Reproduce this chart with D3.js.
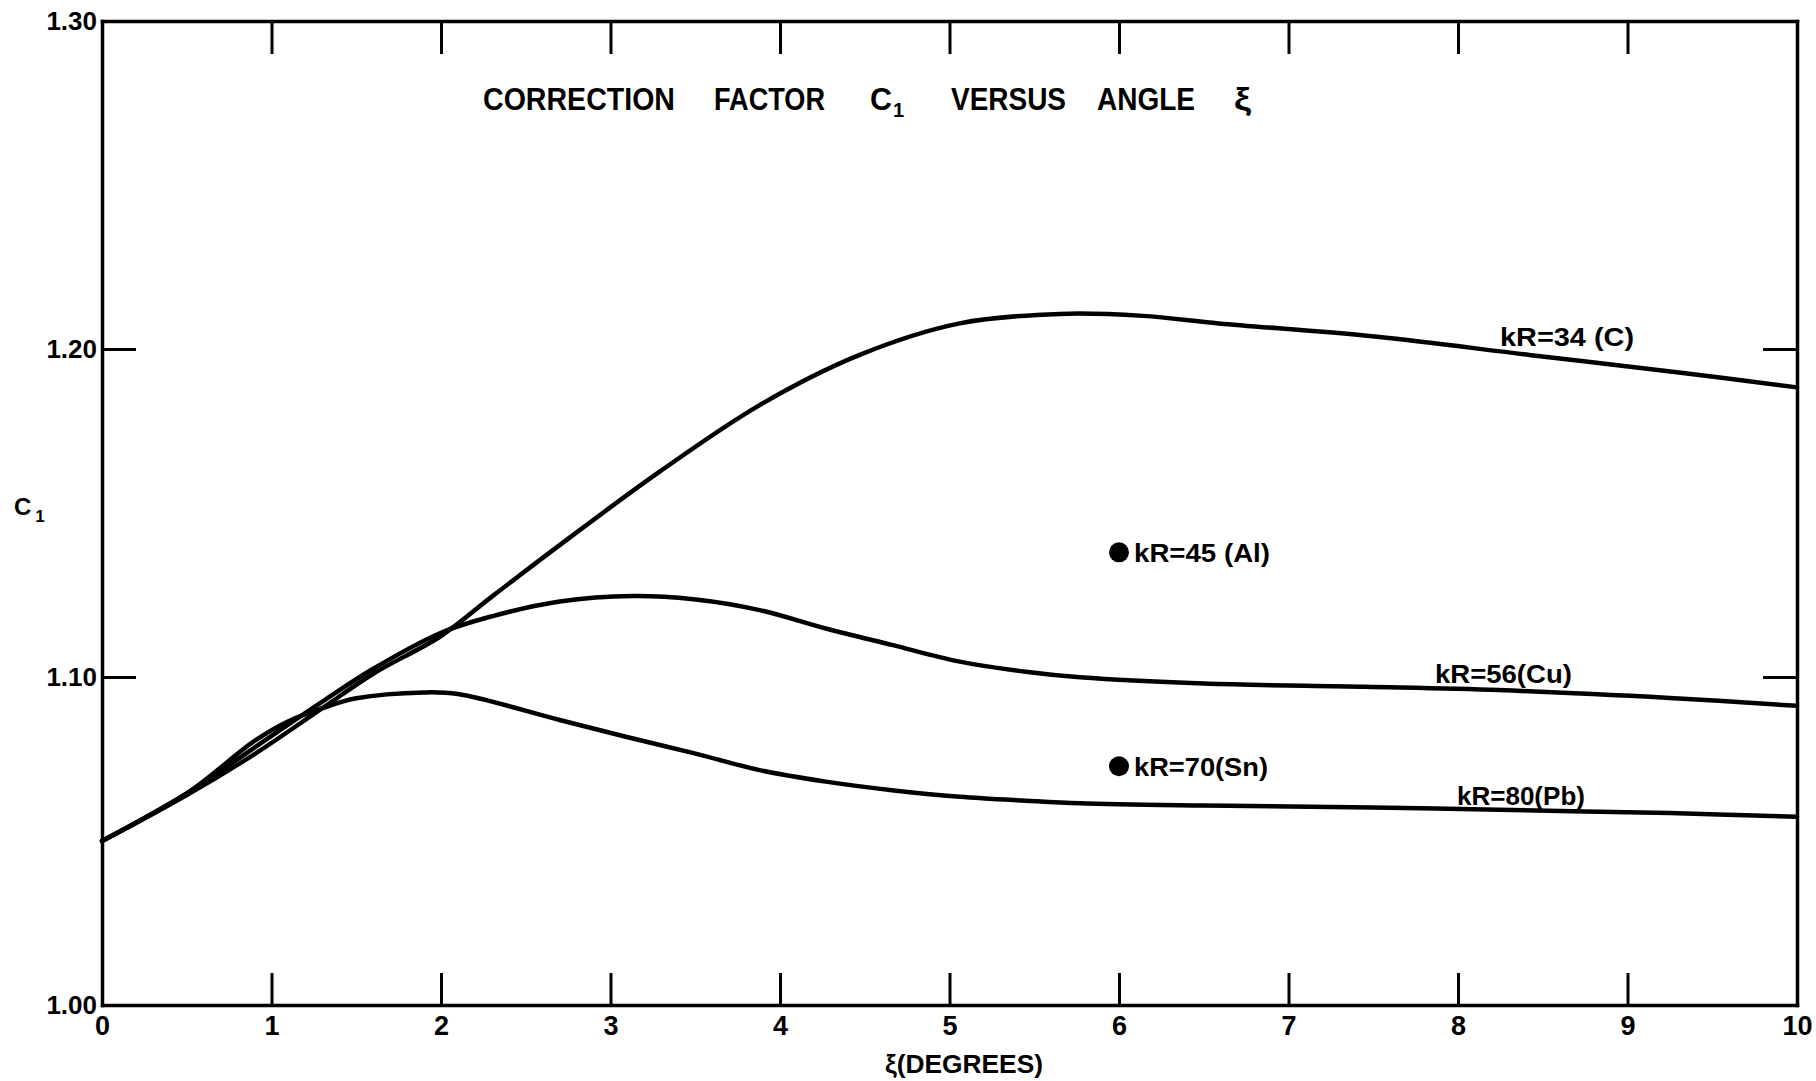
<!DOCTYPE html>
<html>
<head>
<meta charset="utf-8">
<script src="https://cdn.jsdelivr.net/npm/d3@7"></script>
<style>
  html, body { margin: 0; padding: 0; background: #fff; }
  svg { display: block; }
  text { font-family: "Liberation Sans", Arial, sans-serif; font-weight: bold; fill: #000; }
</style>
</head>
<body>
<svg id="chart" width="1816" height="1081"></svg>
<script>
// ---- data -------------------------------------------------------------
const xTickValues = [0, 1, 2, 3, 4, 5, 6, 7, 8, 9, 10];
const yTickValues = [1.00, 1.10, 1.20, 1.30];

// kR = 34 (C)
const xiC = [0, 0.5, 0.9, 1.3, 1.6, 2.0, 2.3, 2.7, 3.29, 3.88, 4.47, 5.06, 5.65, 6.14, 6.59, 7.51, 8.42, 9.34, 10];
const c1C = [1.050, 1.064, 1.0765, 1.0905, 1.101, 1.1125, 1.1245, 1.1402, 1.1626, 1.1829, 1.1982, 1.2078, 1.2107, 1.2101, 1.2078, 1.2038, 1.1982, 1.1926, 1.1883];

// kR = 56 (Cu)
const xiCu = [0, 0.5, 0.9, 1.3, 1.6, 2.0, 2.3, 2.7, 3.13, 3.49, 3.88, 4.27, 4.66, 5.06, 5.45, 5.77, 6.5, 7.45, 8.24, 9.25, 10];
const c1Cu = [1.050, 1.0645, 1.0785, 1.0925, 1.1025, 1.1135, 1.1185, 1.123, 1.1247, 1.1237, 1.1204, 1.1148, 1.1098, 1.1047, 1.1016, 1.0999, 1.098, 1.097, 1.096, 1.0936, 1.0912];

// kR = 80 (Pb)
const xiPb = [0, 0.5, 0.9, 1.1, 1.3, 1.5, 1.9, 2.1, 2.7, 3.09, 3.49, 3.88, 4.27, 4.66, 5.06, 5.45, 5.77, 6.5, 7.5, 8.24, 9.25, 10];
const c1Pb = [1.050, 1.0645, 1.0805, 1.0865, 1.0905, 1.0935, 1.0953, 1.0948, 1.0869, 1.0818, 1.0768, 1.0716, 1.0681, 1.0655, 1.0635, 1.0623, 1.0615, 1.0608, 1.0602, 1.0595, 1.0585, 1.0574];

// single computed points at xi = 6 degrees
const pointLabels = ["kR=45 (Al)", "kR=70(Sn)"];
const pointXi = [6, 6];
const pointC1 = [1.138, 1.0728];

const curveLabels = ["kR=34 (C)", "kR=56(Cu)", "kR=80(Pb)"];

// ---- layout -----------------------------------------------------------
const svg = d3.select("#chart");
const x = d3.scaleLinear().domain([0, 10]).range([102, 1797]);
const y = d3.scaleLinear().domain([1.0, 1.3]).range([1005, 21]);

const FRAME_W = 3.5, TICK_W = 3, CURVE_W = 4.5;

function styleAxis(g, fontSize) {
  g.attr("font-family", null).attr("font-size", null);
  g.select(".domain").attr("stroke-width", FRAME_W).attr("stroke-linecap", "square");
  g.selectAll(".tick line").attr("stroke-width", TICK_W);
  g.selectAll(".tick text").style("font-size", fontSize + "px");
}

// bottom axis with inward ticks and degree labels
svg.append("g")
  .attr("transform", `translate(0,${y(1.0)})`)
  .call(d3.axisBottom(x).tickValues(xTickValues).tickSizeInner(-32).tickSizeOuter(0)
        .tickPadding(11).tickFormat(d3.format("d")))
  .call(g => styleAxis(g, 27));

// top axis, ticks only
svg.append("g")
  .attr("transform", `translate(0,${y(1.3)})`)
  .call(d3.axisTop(x).tickValues(xTickValues.slice(1, -1)).tickSizeInner(-33).tickSizeOuter(0).tickFormat(""))
  .call(g => styleAxis(g, 27));

// left axis with C1 labels
svg.append("g")
  .attr("transform", `translate(${x(0)},0)`)
  .call(d3.axisLeft(y).tickValues(yTickValues).tickSizeInner(-34).tickSizeOuter(0)
        .tickPadding(5).tickFormat(d3.format(".2f")))
  .call(g => styleAxis(g, 26));

// right axis, ticks only
svg.append("g")
  .attr("transform", `translate(${x(10)},0)`)
  .call(d3.axisRight(y).tickValues(yTickValues.slice(1, -1)).tickSizeInner(-34).tickSizeOuter(0).tickFormat(""))
  .call(g => styleAxis(g, 26));

// ---- curves -----------------------------------------------------------
const line = d3.line().x(d => x(d[0])).y(d => y(d[1])).curve(d3.curveCatmullRom.alpha(0.5));
const curves = [d3.zip(xiC, c1C), d3.zip(xiCu, c1Cu), d3.zip(xiPb, c1Pb)];

svg.append("g").selectAll("path").data(curves).join("path")
  .attr("d", line)
  .attr("fill", "none")
  .attr("stroke", "#000")
  .attr("stroke-width", CURVE_W)
  .attr("stroke-linejoin", "round")
  .attr("stroke-linecap", "round");

// curve labels, anchored in data coordinates
const curveLabelAt = [[8.248, 1.2037, 134], [7.864, 1.1009, 137], [7.994, 1.0637, 128]];
svg.append("g").selectAll("text").data(curveLabels).join("text")
  .attr("x", (d, i) => x(curveLabelAt[i][0]))
  .attr("y", (d, i) => y(curveLabelAt[i][1]))
  .attr("dy", "0.36em")
  .attr("textLength", (d, i) => curveLabelAt[i][2])
  .attr("lengthAdjust", "spacingAndGlyphs")
  .style("font-size", "26px")
  .text(d => d);

// isolated points with their labels
const pts = d3.range(pointLabels.length);
svg.append("g").selectAll("circle").data(pts).join("circle")
  .attr("cx", i => x(pointXi[i]))
  .attr("cy", i => y(pointC1[i]))
  .attr("r", 10)
  .attr("fill", "#000");
svg.append("g").selectAll("text").data(pts).join("text")
  .attr("x", i => x(pointXi[i]) + 15)
  .attr("y", i => y(pointC1[i]))
  .attr("dy", "0.36em")
  .attr("textLength", i => [136, 134][i])
  .attr("lengthAdjust", "spacingAndGlyphs")
  .style("font-size", "26px")
  .text(i => pointLabels[i]);

// ---- titles -----------------------------------------------------------
const titleWords = [
  { t: "CORRECTION", x: 483, w: 192 },
  { t: "FACTOR", x: 714, w: 111 },
  { t: "C", x: 870, w: 22 },
  { t: "VERSUS", x: 951, w: 115 },
  { t: "ANGLE", x: 1097, w: 98 },
  { t: "ξ", x: 1234, w: 17 }
];
const title = svg.append("g").attr("class", "title");
title.selectAll("text").data(titleWords).join("text")
  .attr("x", d => d.x)
  .attr("y", 110)
  .attr("textLength", d => d.w)
  .attr("lengthAdjust", "spacingAndGlyphs")
  .style("font-size", "31px")
  .text(d => d.t);
title.append("text").attr("x", 893).attr("y", 117).style("font-size", "20px").text("1");

// y-axis title C1
const yTitle = svg.append("text").attr("x", 14).attr("y", 515).style("font-size", "24px");
yTitle.append("tspan").text("C");
yTitle.append("tspan").attr("dx", 4).attr("dy", 7).style("font-size", "17px").text("1");

// x-axis title
svg.append("text")
  .attr("x", 885).attr("y", 1073)
  .attr("textLength", 158)
  .attr("lengthAdjust", "spacingAndGlyphs")
  .style("font-size", "26px")
  .text("ξ(DEGREES)");
</script>
</body>
</html>
